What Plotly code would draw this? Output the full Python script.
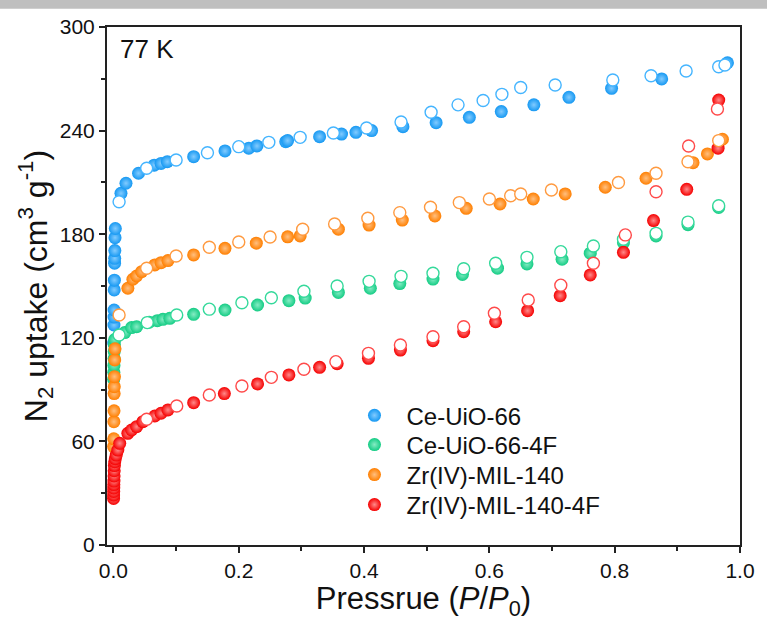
import plotly.graph_objects as go

# ---------------- data ----------------
series_names = ["Ce-UiO-66", "Ce-UiO-66-4F", "Zr(IV)-MIL-140", "Zr(IV)-MIL-140-4F"]

# Ce-UiO-66 adsorption (filled) / desorption (open)
ce_ads_p = [0.0005, 0.0008, 0.001, 0.001, 0.0012, 0.0015, 0.0018, 0.002, 0.0022, 0.0025, 0.003,
            0.012, 0.02, 0.04, 0.065, 0.076, 0.086, 0.128, 0.178, 0.216, 0.229, 0.275, 0.278,
            0.329, 0.364, 0.387, 0.412, 0.462, 0.515, 0.568, 0.619, 0.671, 0.727, 0.795, 0.875, 0.98]
ce_ads_v = [117.0, 127.4, 132.0, 136.1, 147.7, 153.4, 163.2, 166.0, 170.5, 178.0, 183.3,
            203.7, 209.5, 215.3, 220.0, 221.0, 222.0, 224.9, 228.2, 229.8, 231.1, 233.6, 234.2,
            236.5, 238.0, 239.0, 240.0, 242.3, 244.6, 247.7, 251.0, 254.9, 259.3, 264.5, 269.9, 279.3]
ce_des_p = [0.009, 0.053, 0.1, 0.15, 0.2, 0.248, 0.298, 0.351, 0.404, 0.459, 0.507, 0.55,
            0.59, 0.62, 0.65, 0.705, 0.797, 0.858, 0.914, 0.966, 0.976]
ce_des_v = [198.8, 218.2, 223.0, 227.2, 230.7, 233.2, 236.1, 238.6, 241.5, 245.0, 250.6, 254.9,
            257.4, 261.0, 265.0, 266.4, 269.3, 271.8, 274.5, 277.0, 278.0]

# Ce-UiO-66-4F
cef_ads_p = [0.0004, 0.0006, 0.0008, 0.001, 0.0012, 0.0015, 0.002, 0.018, 0.029, 0.037, 0.057,
             0.07, 0.079, 0.09, 0.128, 0.178, 0.23, 0.28, 0.306, 0.359, 0.41, 0.457, 0.51,
             0.557, 0.613, 0.66, 0.716, 0.761, 0.814, 0.866, 0.917, 0.966]
cef_ads_v = [96.0, 100.0, 104.0, 108.0, 112.0, 116.0, 119.0, 123.0, 125.9, 126.4, 129.0,
             129.9, 130.7, 131.3, 133.6, 136.1, 139.0, 141.5, 143.0, 146.3, 148.7, 151.4, 154.0,
             156.7, 160.3, 162.8, 165.5, 169.0, 175.1, 179.0, 185.5, 195.5]
cef_des_p = [0.009, 0.054, 0.101, 0.153, 0.205, 0.252, 0.304, 0.357, 0.408, 0.459, 0.51,
             0.559, 0.61, 0.66, 0.714, 0.766, 0.814, 0.866, 0.917, 0.966]
cef_des_v = [121.6, 128.8, 133.2, 136.6, 140.3, 143.2, 147.0, 150.0, 152.7, 155.6, 157.4,
             160.0, 163.2, 166.6, 169.9, 173.2, 177.1, 180.5, 187.0, 196.5]

# Zr(IV)-MIL-140
zr_ads_p = [0.0003, 0.0005, 0.0007, 0.0009, 0.0011, 0.0013, 0.0016, 0.002, 0.0025,
            0.023, 0.031, 0.037, 0.045, 0.066, 0.076, 0.087, 0.128, 0.178, 0.228, 0.278,
            0.298, 0.359, 0.408, 0.461, 0.513, 0.563, 0.617, 0.67, 0.721, 0.785, 0.85,
            0.925, 0.948, 0.972]
zr_ads_v = [57.0, 61.5, 71.4, 77.7, 87.7, 91.7, 97.5, 107.2, 113.6,
            148.7, 153.9, 155.8, 158.3, 162.2, 163.5, 164.7, 168.0, 171.8, 174.8, 178.5,
            179.0, 182.9, 185.3, 188.2, 190.6, 195.0, 197.5, 200.4, 203.3, 207.2, 212.4,
            221.4, 226.5, 235.0]
zr_des_p = [0.009, 0.053, 0.1, 0.153, 0.2, 0.25, 0.302, 0.353, 0.406, 0.457, 0.506, 0.552,
            0.6, 0.634, 0.65, 0.699, 0.806, 0.866, 0.917, 0.966]
zr_des_v = [133.2, 160.3, 167.4, 172.4, 175.5, 178.4, 182.9, 185.9, 189.2, 192.5, 195.6, 198.3,
            200.4, 202.3, 203.3, 205.6, 209.9, 215.3, 222.0, 234.2]

# Zr(IV)-MIL-140-4F
zrf_ads_p = [0.0002, 0.0003, 0.0004, 0.0005, 0.0006, 0.0008, 0.001, 0.0012, 0.0015, 0.002,
             0.003, 0.0045, 0.007, 0.01, 0.023, 0.029, 0.037, 0.047, 0.066, 0.076, 0.087,
             0.128, 0.177, 0.23, 0.28, 0.329, 0.357, 0.407, 0.458, 0.51, 0.559, 0.61, 0.661,
             0.713, 0.761, 0.814, 0.862, 0.915, 0.965, 0.966]
zrf_ads_v = [27.0, 29.0, 31.0, 33.0, 35.0, 37.0, 40.0, 43.0, 46.0, 48.2,
             50.0, 52.1, 55.0, 58.9, 64.7, 66.6, 68.5, 71.4, 74.7, 76.3, 78.2,
             82.4, 87.7, 93.3, 98.5, 102.9, 105.0, 108.1, 112.9, 118.3, 123.5, 129.3, 135.7,
             144.4, 156.4, 169.5, 187.9, 206.0, 229.8, 257.7]
zrf_des_p = [0.053, 0.101, 0.153, 0.205, 0.252, 0.304, 0.355, 0.407, 0.458, 0.51, 0.559,
             0.608, 0.662, 0.714, 0.766, 0.817, 0.866, 0.918, 0.964]
zrf_des_v = [72.8, 80.5, 86.9, 92.1, 97.1, 101.8, 106.2, 111.0, 115.8, 120.6, 126.4,
             134.2, 141.9, 150.5, 163.2, 179.6, 204.6, 231.1, 252.5]

x_ticks = [0.0, 0.2, 0.4, 0.6, 0.8, 1.0]
y_ticks = [0, 60, 120, 180, 240, 300]

# ---------------- styles ----------------
FONT = "Liberation Sans, Arial, sans-serif"
fill_colors = ["#1598f2", "#14cc84", "#ff7f00", "#f50000"]
hi_colors = ["#82cbff", "#86ecc4", "#ffbf80", "#ff8a8a"]
open_colors = ["#45b5ff", "#35d99b", "#ff9a40", "#ff4a4a"]
legend_ids = ["legend", "legend2", "legend3", "legend4"]
legend_rows_y = [0.2496, 0.1931, 0.1351, 0.0772]

ads = [(ce_ads_p, ce_ads_v), (cef_ads_p, cef_ads_v), (zr_ads_p, zr_ads_v), (zrf_ads_p, zrf_ads_v)]
des = [(ce_des_p, ce_des_v), (cef_des_p, cef_des_v), (zr_des_p, zr_des_v), (zrf_des_p, zrf_des_v)]

fig = go.Figure()
for i, (p, v) in enumerate(ads):
    fig.add_trace(go.Scatter(
        x=p, y=v, mode="markers", name=series_names[i], legendgroup=str(i),
        legend=legend_ids[i],
        marker=dict(size=13, color=fill_colors[i], line=dict(width=0),
                    gradient=dict(type="radial", color=hi_colors[i])),
    ))
for i, (p, v) in enumerate(des):
    fig.add_trace(go.Scatter(
        x=p, y=v, mode="markers", name=series_names[i] + " (des)", legendgroup=str(i),
        showlegend=False,
        marker=dict(size=12, color="white", line=dict(width=1.4, color=open_colors[i])),
    ))

axis_font = dict(family=FONT, size=21, color="#111")

legend_layout = {}
for lid, ly in zip(legend_ids, legend_rows_y):
    legend_layout[lid] = dict(x=0.372, y=ly, xanchor="left", yanchor="middle",
                              font=dict(size=24, family=FONT, color="#111"),
                              bgcolor="rgba(0,0,0,0)", itemwidth=54)

fig.update_layout(
    width=767, height=621,
    margin=dict(l=107, r=23, t=27, b=76),
    paper_bgcolor="white", plot_bgcolor="white",
    font=dict(family=FONT, color="#111"),
    showlegend=True,
    xaxis=dict(range=[-0.0103, 1.0], tickvals=x_ticks, ticktext=[f"{t:.1f}" for t in x_ticks],
               ticks="outside", ticklen=6, tickwidth=1.5, tickcolor="#222",
               minor=dict(tickvals=[0.1, 0.3, 0.5, 0.7, 0.9], ticks="outside", ticklen=4,
                          tickwidth=1.5, tickcolor="#222", showgrid=False),
               showline=True, linewidth=2, linecolor="#222", mirror=True,
               showgrid=False, zeroline=False, tickfont=axis_font,
               title=dict(text="Pressrue (<i>P</i>/<i>P</i><sub>0</sub>)",
                          font=dict(size=31, family=FONT, color="#111"),
                          standoff=4)),
    yaxis=dict(range=[0, 300], tickvals=y_ticks,
               ticks="outside", ticklen=6, tickwidth=1.5, tickcolor="#222",
               minor=dict(tickvals=[30, 90, 150, 210, 270], ticks="outside", ticklen=4,
                          tickwidth=1.5, tickcolor="#222", showgrid=False),
               showline=True, linewidth=2, linecolor="#222", mirror=True,
               showgrid=False, zeroline=False, tickfont=axis_font,
               title=dict(text="N<sub>2</sub> uptake (cm<sup>3</sup> g<sup>-1</sup>)",
                          font=dict(size=32, family=FONT, color="#111"),
                          standoff=3)),
    annotations=[dict(text="77 K", x=0.017, y=0.958, xref="paper", yref="paper",
                      xanchor="left", yanchor="middle", showarrow=False,
                      font=dict(size=26, family=FONT, color="#111"))],
    shapes=[dict(type="rect", xref="paper", yref="paper", x0=-0.2, x1=1.1,
                 y0=1.035, y1=1.06, fillcolor="#bfbfbf", line=dict(width=0), layer="below")],
    **legend_layout,
)

fig.write_html("out.html")
